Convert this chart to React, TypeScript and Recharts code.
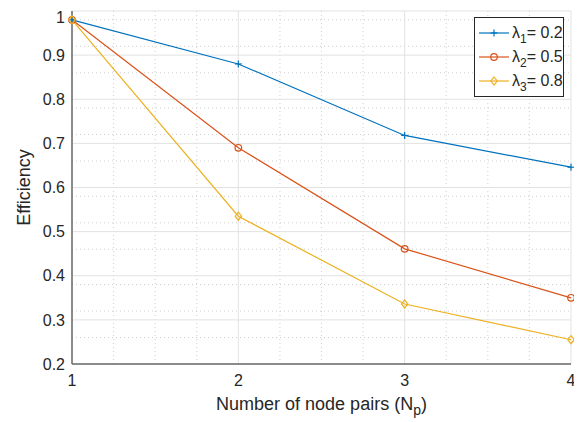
import { LineChart, Line, XAxis, YAxis, CartesianGrid, Legend } from 'recharts'

const nodePairs = [1, 2, 3, 4]
const lambda1Eff = [0.98, 0.88, 0.718, 0.646]
const lambda2Eff = [0.98, 0.69, 0.461, 0.35]
const lambda3Eff = [0.98, 0.535, 0.336, 0.255]

const xTicks = [1, 2, 3, 4]
const xMinorTicks = [1.25, 1.5, 1.75, 2.25, 2.5, 2.75, 3.25, 3.5, 3.75]
const yTicks = [0.2, 0.3, 0.4, 0.5, 0.6, 0.7, 0.8, 0.9, 1]
const yMinorTicks = [
  0.22, 0.24, 0.26, 0.28, 0.32, 0.34, 0.36, 0.38, 0.42, 0.44, 0.46, 0.48,
  0.52, 0.54, 0.56, 0.58, 0.62, 0.64, 0.66, 0.68, 0.72, 0.74, 0.76, 0.78,
  0.82, 0.84, 0.86, 0.88, 0.92, 0.94, 0.96, 0.98,
]

const legendSubs = ['1', '2', '3']
const legendValues = ['0.2', '0.5', '0.8']

const BLUE = '#0072BD'
const ORANGE = '#D95319'
const YELLOW = '#EDB120'
const AXIS = '#262626'
const FONT = '"Liberation Sans", Arial, Helvetica, sans-serif'

const data = nodePairs.map((n, i) => ({
  n,
  l1: lambda1Eff[i],
  l2: lambda2Eff[i],
  l3: lambda3Eff[i],
}))

function PlusDot({ cx, cy, stroke }: any) {
  if (cx == null || cy == null) return null
  return (
    <g>
      <line x1={cx - 3.5} y1={cy} x2={cx + 3.5} y2={cy} stroke={stroke} strokeWidth={1.2} />
      <line x1={cx} y1={cy - 3.5} x2={cx} y2={cy + 3.5} stroke={stroke} strokeWidth={1.2} />
    </g>
  )
}

function CircleDot({ cx, cy, stroke }: any) {
  if (cx == null || cy == null) return null
  return <circle cx={cx} cy={cy} r={3.3} fill="none" stroke={stroke} strokeWidth={1.2} />
}

function DiamondDot({ cx, cy, stroke }: any) {
  if (cx == null || cy == null) return null
  const d = 4
  return (
    <path
      d={`M${cx},${cy - d}L${cx + d * 0.8},${cy}L${cx},${cy + d}L${cx - d * 0.8},${cy}Z`}
      fill="none"
      stroke={stroke}
      strokeWidth={1.2}
    />
  )
}

function XLabel({ viewBox }: any) {
  const { x, y, width } = viewBox
  return (
    <text x={x + width / 2} y={y + 46} textAnchor="middle" fill={AXIS} fontSize={18} fontFamily={FONT}>
      Number of node pairs (N
      <tspan dy={5} fontSize={14}>p</tspan>
      <tspan dy={-5}>)</tspan>
    </text>
  )
}

function YLabel({ viewBox }: any) {
  const { y, height } = viewBox
  const cx = 16
  const cy = y + height / 2
  return (
    <text
      x={cx}
      y={cy}
      transform={`rotate(-90, ${cx}, ${cy})`}
      textAnchor="middle"
      dominantBaseline="central"
      fill={AXIS}
      fontSize={18}
      fontFamily={FONT}
    >
      Efficiency
    </text>
  )
}

function LegendMarker({ i, color }: { i: number; color: string }) {
  return (
    <svg width={30} height={12} style={{ display: 'block' }}>
      <line x1={0} y1={6} x2={30} y2={6} stroke={color} strokeWidth={1.2} />
      {i === 0 && <PlusDot cx={15} cy={6} stroke={color} />}
      {i === 1 && <CircleDot cx={15} cy={6} stroke={color} />}
      {i === 2 && <DiamondDot cx={15} cy={6} stroke={color} />}
    </svg>
  )
}

function LegendBox() {
  const colors = [BLUE, ORANGE, YELLOW]
  return (
    <div
      style={{
        border: `1px solid ${AXIS}`,
        background: '#fff',
        padding: '3px 0',
        width: 88,
        fontFamily: FONT,
        fontSize: 16,
        color: AXIS,
      }}
    >
      {legendSubs.map((s, i) => (
        <div key={s} style={{ display: 'flex', alignItems: 'center', height: 24, paddingLeft: 4 }}>
          <LegendMarker i={i} color={colors[i]} />
          <span style={{ marginLeft: 3, whiteSpace: 'nowrap', lineHeight: '16px' }}>
            λ<sub style={{ fontSize: 12, verticalAlign: -5, lineHeight: 0 }}>{s}</sub>= {legendValues[i]}
          </span>
        </div>
      ))}
    </div>
  )
}

const tickStyle = { fill: AXIS, fontSize: 16, fontFamily: FONT }

export default function App() {
  return (
    <div style={{ width: 574, height: 414, position: 'relative' }}>
      <LineChart width={574} height={414} data={data} margin={{ top: 3, right: 11, bottom: 0, left: 0 }}>
        <CartesianGrid
          horizontalValues={yMinorTicks}
          verticalValues={xMinorTicks}
          stroke="#cfcfcf"
          strokeDasharray="1 3"
          strokeWidth={1}
        />
        <CartesianGrid horizontalValues={yTicks} verticalValues={xTicks} stroke="#e2e2e2" strokeWidth={1} />
        <XAxis
          dataKey="n"
          type="number"
          domain={[1, 4]}
          ticks={xTicks}
          height={58}
          tickLine={false}
          tickSize={0}
          tickMargin={11}
          tick={tickStyle}
          axisLine={{ stroke: AXIS, strokeWidth: 1 }}
          label={<XLabel />}
        />
        <XAxis
          xAxisId="bm"
          type="number"
          domain={[1, 4]}
          allowDataOverflow
          ticks={xTicks}
          mirror
          height={0}
          tick={false}
          tickSize={5}
          tickLine={{ stroke: AXIS }}
          axisLine={false}
        />
        <XAxis
          xAxisId="top"
          orientation="top"
          type="number"
          domain={[1, 4]}
          allowDataOverflow
          ticks={xTicks}
          mirror
          height={0}
          tick={false}
          tickSize={5}
          tickLine={{ stroke: AXIS }}
          axisLine={{ stroke: '#6a6a6a', strokeWidth: 1.5 }}
        />
        <YAxis
          type="number"
          domain={[0.2, 1]}
          ticks={yTicks}
          width={64}
          tickLine={false}
          tickSize={0}
          tickMargin={7}
          tick={tickStyle}
          tickFormatter={(v: number) => `${Math.round(v * 10) / 10}`}
          axisLine={{ stroke: '#6a6a6a', strokeWidth: 1.5 }}
          label={<YLabel />}
        />
        <YAxis
          yAxisId="lm"
          type="number"
          domain={[0.2, 1]}
          allowDataOverflow
          ticks={yTicks}
          mirror
          width={0}
          tick={false}
          tickSize={5}
          tickLine={{ stroke: AXIS }}
          axisLine={false}
        />
        <YAxis
          yAxisId="right"
          orientation="right"
          type="number"
          domain={[0.2, 1]}
          allowDataOverflow
          ticks={yTicks}
          mirror
          width={0}
          tick={false}
          tickSize={5}
          tickLine={{ stroke: AXIS }}
          axisLine={{ stroke: AXIS, strokeWidth: 1 }}
        />
        <Line dataKey="l1" stroke={BLUE} strokeWidth={1.2} dot={<PlusDot />} isAnimationActive={false} />
        <Line dataKey="l2" stroke={ORANGE} strokeWidth={1.2} dot={<CircleDot />} isAnimationActive={false} />
        <Line dataKey="l3" stroke={YELLOW} strokeWidth={1.2} dot={<DiamondDot />} isAnimationActive={false} />
        <Legend
          layout="horizontal"
          verticalAlign="middle"
          content={<LegendBox />}
          wrapperStyle={{ left: 466, top: 9, width: 90 }}
        />
      </LineChart>
    </div>
  )
}
